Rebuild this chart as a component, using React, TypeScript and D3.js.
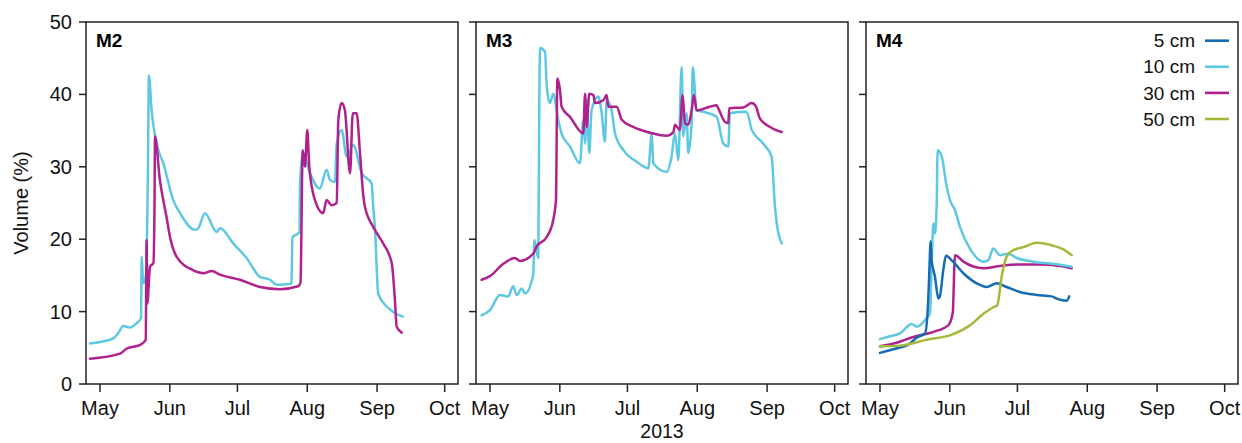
import React from "react";
import * as d3 from "d3";

// ---------- data (date "MM-DD HH" in 2013, soil water volume %) ----------
const depths = ["5 cm", "10 cm", "30 cm", "50 cm"];
const depthColors = ["#156cb2", "#5ec8e3", "#b0218e", "#a5b83a"];
const monthTicks = ["05-01", "06-01", "07-01", "08-01", "09-01", "10-01"];
const yTicks = [0, 10, 20, 30, 40, 50];
const panels = ["M2", "M3", "M4"];

const M2_10cm: [string, number][] = [
  ["04-26 13", 5.6], ["05-01 00", 5.8], ["05-04 00", 6.0], ["05-06 22", 6.3], ["05-09 02", 7.0],
  ["05-11 07", 8.0], ["05-14 07", 7.8], ["05-17 07", 8.4], ["05-19 05", 9.1], ["05-19 12", 17.6],
  ["05-20 05", 13.9], ["05-21 10", 15.0], ["05-22 07", 30.0], ["05-22 17", 42.6], ["05-23 22", 37.8],
  ["05-26 22", 32.3], ["05-29 02", 30.5], ["06-02 12", 25.4], ["06-05 12", 23.6], ["06-12 05", 21.3],
  ["06-13 14", 21.5], ["06-16 14", 23.6], ["06-21 19", 21.0], ["06-23 07", 21.5], ["06-29 05", 19.4],
  ["07-05 02", 17.4], ["07-11 00", 14.8], ["07-15 12", 14.4], ["07-18 10", 13.7], ["07-24 07", 13.8],
  ["07-25 00", 13.9], ["07-25 10", 20.3], ["07-28 00", 20.8], ["07-28 14", 21.0], ["07-28 19", 27.7],
  ["07-30 00", 31.9], ["08-02 05", 29.1], ["08-06 14", 27.0], ["08-09 14", 29.6], ["08-11 02", 28.2],
  ["08-13 07", 27.9], ["08-14 02", 33.2], ["08-16 07", 35.1], ["08-18 12", 31.4], ["08-21 10", 33.0],
  ["08-25 05", 29.1], ["08-29 14", 27.7], ["08-30 07", 24.5], ["08-31 02", 21.3], ["09-01 12", 12.5],
  ["09-05 07", 10.7], ["09-08 22", 9.8], ["09-12 10", 9.3],
];
const M2_30cm: [string, number][] = [
  ["04-26 13", 3.5], ["05-09 22", 4.2], ["05-12 22", 4.9], ["05-18 19", 5.4], ["05-21 07", 6.1],
  ["05-21 17", 19.9], ["05-22 00", 11.1], ["05-23 05", 16.2], ["05-24 17", 16.7], ["05-25 05", 25.0],
  ["05-25 10", 34.2], ["05-27 14", 28.2], ["05-29 02", 25.4], ["05-30 14", 23.0], ["06-01 02", 20.3],
  ["06-04 00", 17.6], ["06-11 10", 15.7], ["06-15 22", 15.3], ["06-19 14", 15.6], ["06-23 07", 15.1],
  ["07-02 02", 14.4], ["07-11 00", 13.4], ["07-19 22", 13.1], ["07-28 00", 13.5], ["07-29 00", 14.0],
  ["07-30 00", 32.3], ["07-31 00", 30.0], ["08-01 00", 35.1], ["08-01 22", 30.0], ["08-04 10", 25.4],
  ["08-08 02", 23.6], ["08-09 14", 25.4], ["08-11 19", 24.7], ["08-14 02", 25.0], ["08-14 19", 36.5],
  ["08-16 07", 38.8], ["08-17 17", 37.8], ["08-20 00", 29.1], ["08-21 05", 37.4], ["08-22 22", 37.4],
  ["08-24 10", 31.9], ["08-25 22", 25.9], ["08-26 14", 24.5], ["08-30 07", 21.7], ["09-03 17", 19.4],
  ["09-07 12", 16.7], ["09-08 22", 11.6], ["09-09 17", 7.9], ["09-11 22", 7.1],
];
const M3_10cm: [string, number][] = [
  ["04-27 07", 9.5], ["05-01 00", 10.2], ["05-05 10", 12.3], ["05-09 02", 12.1], ["05-11 07", 13.5],
  ["05-12 22", 12.3], ["05-15 02", 13.2], ["05-16 12", 12.5], ["05-20 05", 15.1], ["05-20 17", 19.9],
  ["05-22 10", 17.4], ["05-22 22", 40.0], ["05-23 05", 46.4], ["05-25 10", 45.9], ["05-26 05", 41.1],
  ["05-27 14", 38.8], ["05-29 02", 40.1], ["05-31 07", 36.5], ["06-01 19", 34.6], ["06-05 12", 32.8],
  ["06-09 22", 30.5], ["06-11 10", 36.5], ["06-12 05", 33.2], ["06-12 22", 39.2], ["06-14 02", 31.9],
  ["06-15 02", 37.8], ["06-18 02", 39.7], ["06-19 14", 37.4], ["06-21 00", 33.5], ["06-21 19", 39.2],
  ["06-24 00", 37.8], ["06-25 12", 34.6], ["06-29 05", 32.3], ["07-05 02", 30.7], ["07-10 07", 29.8],
  ["07-11 19", 34.6], ["07-12 12", 30.5], ["07-18 10", 29.3], ["07-20 14", 31.4], ["07-22 02", 34.6],
  ["07-23 14", 30.9], ["07-25 02", 43.8], ["07-25 19", 34.2], ["07-27 07", 37.4], ["07-28 00", 31.9],
  ["07-29 12", 36.0], ["07-30 00", 43.8], ["07-31 17", 37.8], ["08-03 17", 37.6], ["08-09 14", 36.9],
  ["08-12 14", 33.2], ["08-14 19", 32.8], ["08-15 12", 37.4], ["08-22 22", 37.6], ["08-25 05", 35.1],
  ["08-30 07", 33.2], ["09-03 00", 31.4], ["09-04 12", 24.5], ["09-05 07", 22.2], ["09-07 12", 19.4],
];
const M3_30cm: [string, number][] = [
  ["04-27 07", 14.4], ["05-01 00", 14.9], ["05-06 22", 16.6], ["05-12 02", 17.4], ["05-14 07", 17.0],
  ["05-20 05", 18.0], ["05-21 17", 19.0], ["05-26 05", 20.3], ["05-29 02", 22.7], ["05-30 07", 25.4],
  ["05-30 22", 42.2], ["06-01 02", 40.6], ["06-01 19", 38.3], ["06-05 12", 36.9], ["06-11 10", 34.6],
  ["06-12 05", 40.1], ["06-12 22", 35.5], ["06-14 02", 40.1], ["06-15 22", 39.9], ["06-16 14", 38.8],
  ["06-20 07", 39.2], ["06-21 19", 39.9], ["06-22 12", 38.3], ["06-26 05", 38.3], ["06-28 12", 36.5],
  ["07-03 14", 35.5], ["07-11 00", 34.7], ["07-18 10", 34.3], ["07-21 10", 34.8], ["07-22 02", 35.8],
  ["07-24 07", 35.1], ["07-25 12", 39.9], ["07-26 14", 36.0], ["07-28 00", 35.8], ["07-29 12", 37.8],
  ["07-30 12", 39.9], ["07-31 17", 37.8], ["08-06 14", 38.3], ["08-09 14", 38.5], ["08-10 07", 38.1],
  ["08-13 07", 36.2], ["08-14 19", 36.0], ["08-15 05", 38.1], ["08-21 10", 38.2], ["08-25 05", 38.8],
  ["08-27 02", 38.3], ["08-28 19", 36.7], ["09-02 07", 35.5], ["09-07 12", 34.8],
];
const M4_5cm: [string, number][] = [
  ["05-01 00", 4.3], ["05-06 22", 4.8], ["05-14 07", 5.6], ["05-17 07", 6.4], ["05-21 00", 7.0],
  ["05-22 10", 11.6], ["05-22 22", 15.7], ["05-23 12", 19.7], ["05-23 22", 17.1], ["05-25 10", 14.8],
  ["05-26 22", 11.8], ["05-27 14", 12.1], ["05-29 02", 15.7], ["05-30 07", 17.7], ["06-01 19", 17.1],
  ["06-07 00", 15.3], ["06-12 22", 13.9], ["06-17 10", 13.4], ["06-21 19", 13.9], ["06-26 05", 13.4],
  ["07-02 02", 12.7], ["07-09 14", 12.3], ["07-16 05", 12.1], ["07-18 10", 11.8], ["07-22 22", 11.5],
  ["07-24 00", 12.1],
];
const M4_10cm: [string, number][] = [
  ["05-01 00", 6.2], ["05-05 10", 6.6], ["05-09 22", 7.0], ["05-15 02", 8.3], ["05-17 07", 7.9],
  ["05-21 17", 9.1], ["05-23 05", 9.8], ["05-23 22", 16.2], ["05-24 17", 22.2], ["05-25 10", 20.8],
  ["05-26 05", 25.4], ["05-26 14", 32.3], ["05-28 10", 31.4], ["05-30 14", 27.3], ["06-01 02", 25.4],
  ["06-03 07", 24.0], ["06-05 12", 21.7], ["06-09 22", 18.7], ["06-15 22", 16.9], ["06-18 02", 17.1],
  ["06-20 07", 18.7], ["06-23 07", 17.8], ["06-26 22", 18.0], ["06-30 17", 17.4], ["07-08 00", 16.9],
  ["07-16 22", 16.6], ["07-25 02", 16.2],
];
const M4_30cm: [string, number][] = [
  ["05-01 00", 5.2], ["05-08 10", 5.7], ["05-15 19", 6.5], ["05-24 17", 7.2], ["05-31 07", 8.1],
  ["06-02 07", 9.8], ["06-03 07", 17.8], ["06-07 00", 16.9], ["06-15 22", 16.0], ["06-23 07", 16.3],
  ["06-30 17", 16.5], ["07-11 00", 16.5], ["07-19 22", 16.3], ["07-25 02", 16.0],
];
const M4_50cm: [string, number][] = [
  ["05-01 00", 5.2], ["05-09 22", 5.3], ["05-21 17", 6.1], ["06-02 12", 6.9], ["06-09 22", 8.1],
  ["06-15 22", 9.7], ["06-20 07", 10.6], ["06-22 02", 10.9], ["06-24 00", 14.8], ["06-26 05", 17.6],
  ["06-29 05", 18.5], ["07-03 14", 18.9], ["07-09 14", 19.5], ["07-16 22", 19.1], ["07-21 10", 18.6],
  ["07-25 02", 17.8],
];

// series per panel: [depth index, data]
const panelSeries: [number, [string, number][]][][] = [
  [[1, M2_10cm], [2, M2_30cm]],
  [[1, M3_10cm], [2, M3_30cm]],
  [[2, M4_30cm], [1, M4_10cm], [0, M4_5cm], [3, M4_50cm]],
];

// ---------- layout ----------
const W = 1242, H = 443;
const PW = 372, PH = 362, TOP = 22;
const panelX = [86, 476, 866];
const FONT = "'Liberation Sans', Arial, sans-serif";

const parse = d3.timeParse("%Y-%m-%d %H");
const parseDay = d3.timeParse("%Y-%m-%d");

export default function App() {
  const x = d3
    .scaleTime()
    .domain([new Date(2013, 3, 24, 19), new Date(2013, 9, 6, 22)])
    .range([0, PW]);
  const y = d3.scaleLinear().domain([0, 50]).range([PH, 0]);
  const line = d3
    .line<[string, number]>()
    .x((d) => x(parse("2013-" + d[0]) as Date))
    .y((d) => y(d[1]))
    .curve(d3.curveMonotoneX);
  const fmt = d3.timeFormat("%b");
  const ticks = monthTicks.map((t) => parseDay("2013-" + t) as Date);

  return (
    <svg
      width={W}
      height={H}
      style={{ position: "absolute", left: 0, top: 0, background: "#fff" }}
      fontFamily={FONT}
    >
      {panels.map((name, pi) => (
        <g key={name} transform={`translate(${panelX[pi]},${TOP})`}>
          {panelSeries[pi].map(([di, data], si) => (
            <path
              key={si}
              d={line(data) || ""}
              fill="none"
              stroke={depthColors[di]}
              strokeWidth={2.5}
              strokeLinejoin="round"
              strokeLinecap="round"
            />
          ))}
          <rect x={0} y={0} width={PW} height={PH} fill="none" stroke="#222" strokeWidth={1.5} />
          {yTicks.map((t) => (
            <g key={t} transform={`translate(0,${y(t)})`}>
              <line x1={-7} x2={0} stroke="#222" strokeWidth={1.5} />
              {pi === 0 && (
                <text x={-14} dy="0.35em" textAnchor="end" fontSize={20} fill="#111">
                  {t}
                </text>
              )}
            </g>
          ))}
          {ticks.map((t, i) => (
            <g key={i} transform={`translate(${x(t)},${PH})`}>
              <line y1={0} y2={8} stroke="#222" strokeWidth={1.5} />
              <text y={31} textAnchor="middle" fontSize={20} fill="#111">
                {fmt(t)}
              </text>
            </g>
          ))}
          <text x={10} y={25} fontSize={19} fontWeight="bold" fill="#000">
            {name}
          </text>
        </g>
      ))}
      {/* legend */}
      {depths.map((d, i) => (
        <g key={d} transform={`translate(0,${40.7 + i * 26.1})`}>
          <text x={1195} dy="0.35em" textAnchor="end" fontSize={19} fill="#111">
            {d}
          </text>
          <line x1={1205} x2={1229} stroke={depthColors[i]} strokeWidth={2.6} />
        </g>
      ))}
      <text
        transform="translate(28,203) rotate(-90)"
        textAnchor="middle"
        fontSize={20}
        fill="#111"
      >
        Volume (%)
      </text>
      <text x={662} y={438} textAnchor="middle" fontSize={19.5} fill="#111">
        2013
      </text>
    </svg>
  );
}
